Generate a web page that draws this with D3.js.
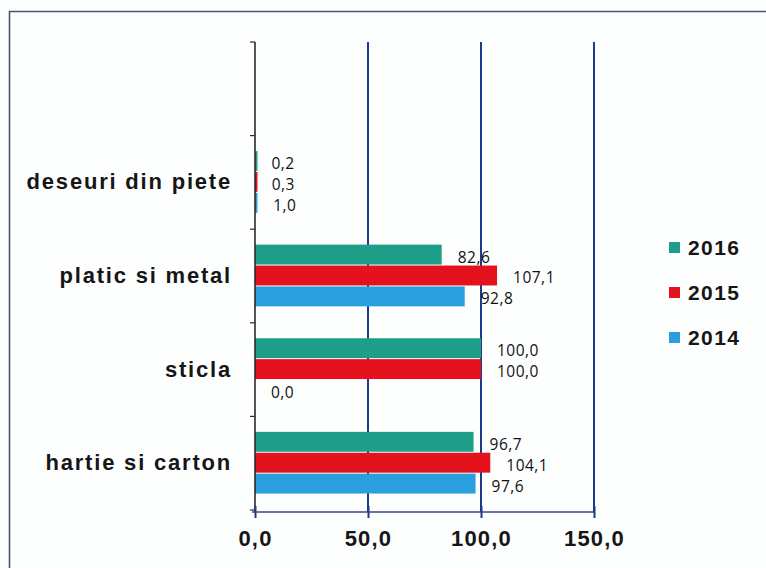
<!DOCTYPE html>
<html>
<head>
<meta charset="utf-8">
<script src="https://cdn.jsdelivr.net/npm/d3@7"></script>
<style>
  html, body { margin: 0; padding: 0; background: #fdfefe; }
  svg { display: block; }
</style>
</head>
<body>
<svg id="chart" width="766" height="568"></svg>
<script>
// categories from top to bottom; the first band is empty in the original
const categories = ['', 'deseuri din piete', 'platic si metal', 'sticla', 'hartie si carton'];
const seriesNames = ['2016', '2015', '2014'];
const seriesColors = ['#1e9e88', '#e3121c', '#2a9fde'];

const values2016 = [null, 0.2, 82.6, 100.0, 96.7];
const values2015 = [null, 0.3, 107.1, 100.0, 104.1];
const values2014 = [null, 1.0, 92.8, 0.0, 97.6];

const xTicks = [0, 50, 100, 150];

const series = [values2016, values2015, values2014];
const fmt = v => v.toFixed(1).replace('.', ',');

const svg = d3.select('#chart');

// outer frame (left and top edges are visible)
svg.append('path')
  .attr('d', 'M9.5,568 L9.5,11.5 L766,11.5')
  .attr('fill', 'none')
  .attr('stroke', '#4a5670')
  .attr('stroke-width', 1.6);

const x = d3.scaleLinear().domain([0, 150]).range([255, 594]);
const y = d3.scaleBand().domain(categories).range([42, 510]).paddingInner(0).paddingOuter(0);
const inner = d3.scaleBand()
  .domain(seriesNames)
  .range([0, y.bandwidth() * 0.67]);
const groupOffset = y.bandwidth() * 0.165;

// vertical grid lines
svg.append('g')
  .selectAll('line')
  .data(xTicks.slice(1))
  .enter()
  .append('line')
  .attr('x1', d => x(d))
  .attr('x2', d => x(d))
  .attr('y1', 42)
  .attr('y2', 512)
  .attr('stroke', '#1f3a8c')
  .attr('stroke-width', 2);

// bars
const groups = svg.append('g')
  .selectAll('g')
  .data(categories)
  .enter()
  .append('g')
  .attr('transform', c => `translate(0,${y(c) + groupOffset})`);

groups.each(function(c, ci) {
  const g = d3.select(this);
  seriesNames.forEach((s, si) => {
    const v = series[si][ci];
    if (v === null) return;
    g.append('rect')
      .attr('x', x(0))
      .attr('y', inner(s))
      .attr('width', Math.max(x(v) - x(0), v > 0 ? 2.5 : 0))
      .attr('height', inner.bandwidth() - 1)
      .attr('fill', seriesColors[si]);
    g.append('text')
      .attr('x', x(v) + 16)
      .attr('y', inner(s) + inner.bandwidth() / 2 + 2)
      .attr('dy', '0.35em')
      .style('font-family', '"Open Sans", sans-serif')
      .style('font-size', '15.5px')
      .style('letter-spacing', '0.5px')
      .style('fill', '#111')
      .text(fmt(v));
  });
});

// y axis line with band ticks
svg.append('line')
  .attr('x1', x(0)).attr('x2', x(0))
  .attr('y1', 42).attr('y2', 512)
  .attr('stroke', '#2a2a2a')
  .attr('stroke-width', 1.6);

svg.append('g')
  .selectAll('line')
  .data(categories.map(c => y(c)).concat([y.range()[1]]))
  .enter()
  .append('line')
  .attr('x1', x(0) - 5).attr('x2', x(0))
  .attr('y1', d => d).attr('y2', d => d)
  .attr('stroke', '#2a2a2a')
  .attr('stroke-width', 1.2);

// category labels
svg.append('g')
  .selectAll('text')
  .data(categories.filter(c => c))
  .enter()
  .append('text')
  .attr('x', 232)
  .attr('y', c => y(c) + y.bandwidth() / 2)
  .attr('dy', '0.32em')
  .attr('text-anchor', 'end')
  .style('font-family', '"Liberation Sans", Arial, sans-serif')
  .style('font-weight', 'bold')
  .style('font-size', '22px')
  .style('letter-spacing', '1.8px')
  .style('fill', '#161616')
  .text(c => c);

// x axis
const xAxis = svg.append('g')
  .attr('transform', 'translate(0,512)')
  .call(d3.axisBottom(x).tickValues(xTicks).tickSize(6).tickSizeOuter(0).tickFormat(fmt));

xAxis.select('.domain')
  .attr('d', `M${x(0) - 3},0H${x(150)}`)
  .attr('stroke', '#3a4a78')
  .attr('stroke-width', 1.6);

xAxis.selectAll('.tick line')
  .attr('y1', -6)
  .attr('y2', 6)
  .attr('stroke', '#1f3a8c')
  .attr('stroke-width', 2);

xAxis.selectAll('.tick text')
  .attr('y', 18)
  .attr('dy', '0.71em')
  .style('font-family', '"Liberation Sans", Arial, sans-serif')
  .style('font-weight', 'bold')
  .style('font-size', '22px')
  .style('letter-spacing', '1.2px')
  .style('fill', '#161616');

// legend
const legend = svg.append('g')
  .selectAll('g')
  .data(seriesNames)
  .enter()
  .append('g')
  .attr('transform', (d, i) => `translate(669,${247 + i * 45})`);

legend.append('rect')
  .attr('x', 0)
  .attr('y', -5)
  .attr('width', 11)
  .attr('height', 11)
  .attr('fill', (d, i) => seriesColors[i]);

legend.append('text')
  .attr('x', 19)
  .attr('y', 0)
  .attr('dy', '0.36em')
  .style('font-family', '"Liberation Sans", Arial, sans-serif')
  .style('font-weight', 'bold')
  .style('font-size', '21px')
  .style('letter-spacing', '1.4px')
  .style('fill', '#161616')
  .text(d => d);
</script>
</body>
</html>
